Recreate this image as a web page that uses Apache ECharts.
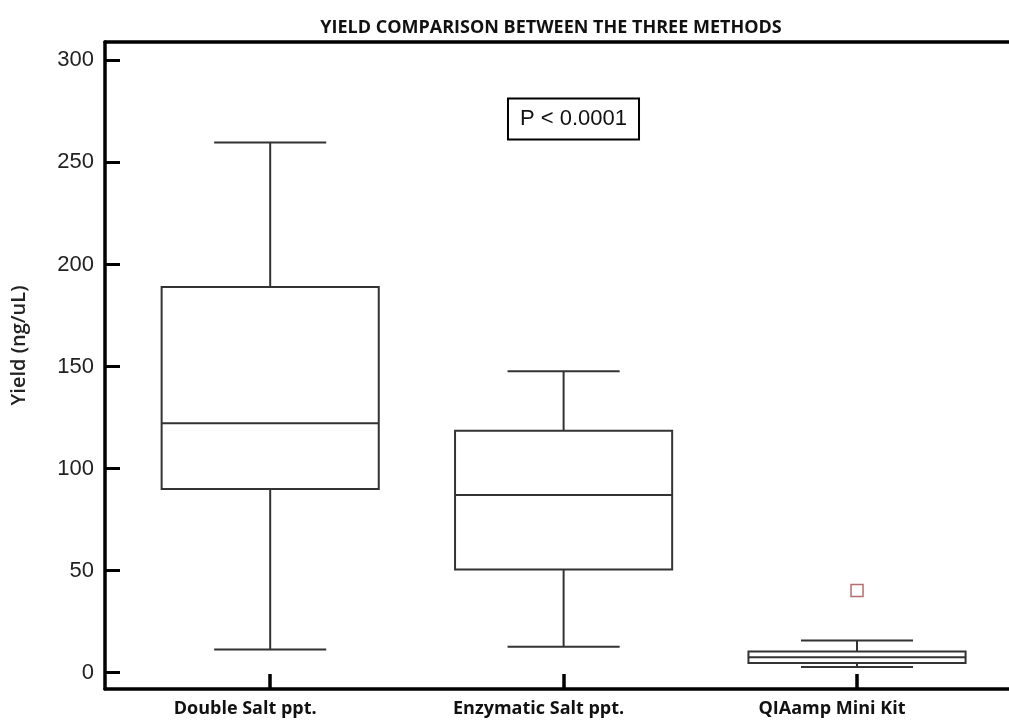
<!DOCTYPE html>
<html><head><meta charset="utf-8">
<script src="https://cdn.jsdelivr.net/npm/echarts@6/dist/echarts.min.js"></script>
<style>html,body{margin:0;padding:0;background:#fff}#c{width:1009px;height:724px}</style>
</head><body><div id="c"></div>
<script>
const categories = ['Double Salt ppt.', 'Enzymatic Salt ppt.', 'QIAamp Mini Kit'];
const whiskerLow = [11.3, 12.7, 2.8];
const q1 = [90, 50.5, 4.7];
const median = [122.2, 87.1, 7.5];
const q3 = [189, 118.5, 10.4];
const whiskerHigh = [259.7, 147.7, 15.8];
const outlierCategory = [3];
const outlierValue = [40.2];
const yTicks = [0, 50, 100, 150, 200, 250, 300];
const titleText = 'YIELD COMPARISON BETWEEN THE THREE METHODS';
const yName = 'Yield (ng/uL)';
const pText = 'P < 0.0001';

const catPos = categories.map((c, i) => i + 1);
const boxData = categories.map((c, i) => [i + 1, whiskerLow[i], q1[i], median[i], q3[i], whiskerHigh[i]]);
const outlierData = outlierCategory.map((c, i) => [c, outlierValue[i]]);

const BOX_W = 0.74, CAP_W = 0.382;
function renderBox(params, api) {
  const x = api.value(0);
  const pLow = api.coord([x, api.value(1)]);
  const pQ1 = api.coord([x, api.value(2)]);
  const pMed = api.coord([x, api.value(3)]);
  const pQ3 = api.coord([x, api.value(4)]);
  const pHigh = api.coord([x, api.value(5)]);
  const bw = api.size([BOX_W, 0])[0];
  const cw = api.size([CAP_W, 0])[0];
  const cx = pMed[0];
  const st = { stroke: '#333', lineWidth: 2, fill: null };
  return {
    type: 'group', children: [
      { type: 'line', shape: { x1: cx, y1: pHigh[1], x2: cx, y2: pQ3[1] }, style: st },
      { type: 'line', shape: { x1: cx - cw / 2, y1: pHigh[1], x2: cx + cw / 2, y2: pHigh[1] }, style: st },
      { type: 'line', shape: { x1: cx, y1: pLow[1], x2: cx, y2: pQ1[1] }, style: st },
      { type: 'line', shape: { x1: cx - cw / 2, y1: pLow[1], x2: cx + cw / 2, y2: pLow[1] }, style: st },
      { type: 'rect', shape: { x: cx - bw / 2, y: pQ3[1], width: bw, height: pQ1[1] - pQ3[1] }, style: { stroke: '#333', lineWidth: 2, fill: '#fff' } },
      { type: 'line', shape: { x1: cx - bw / 2, y1: pMed[1], x2: cx + bw / 2, y2: pMed[1] }, style: st }
    ]
  };
}

const chart = echarts.init(document.getElementById('c'), null, { renderer: 'canvas' });
chart.setOption({
  animation: false,
  backgroundColor: '#fff',
  grid: { left: 105, right: 0, top: 42, bottom: 35, containLabel: false },
  graphic: [
    { type: 'text', x: 551, y: 28, style: { text: titleText, fill: '#111', font: 'bold 18px "Open Sans", sans-serif', align: 'center', verticalAlign: 'middle' } },
    { type: 'text', x: 573.5, y: 119, style: { text: pText, fill: '#111', font: '22px "Liberation Sans", Arial, sans-serif', align: 'center', verticalAlign: 'middle', padding: [9, 11, 8, 11], borderColor: '#000', borderWidth: 2, backgroundColor: '#fff' } }
  ],
  xAxis: [
    {
      type: 'value', min: 0.437, max: 3.518, position: 'bottom',
      splitLine: { show: false },
      axisLine: { show: true, onZero: false, lineStyle: { color: '#000', width: 3.5 } },
      axisTick: { show: true, inside: true, length: 15, customValues: catPos, lineStyle: { color: '#000', width: 3.5 } },
      axisLabel: {
        customValues: catPos, margin: 11, color: '#111', fontFamily: '"Open Sans", sans-serif', fontWeight: 'bold', fontSize: 18,
        padding: [0, 50, 0, 0],
        formatter: v => categories[Math.round(v) - 1] || ''
      }
    },
    {
      type: 'value', min: 0.437, max: 3.518, position: 'top',
      splitLine: { show: false },
      axisLine: { show: true, onZero: false, lineStyle: { color: '#000', width: 3.5 } },
      axisTick: { show: false }, axisLabel: { show: false }
    }
  ],
  yAxis: {
    type: 'value', min: -8, max: 309,
    splitLine: { show: false },
    axisLine: { show: true, onZero: false, lineStyle: { color: '#000', width: 3.5 } },
    axisTick: { show: true, inside: true, length: 15, customValues: yTicks, lineStyle: { color: '#000', width: 3 } },
    axisLabel: { customValues: yTicks, margin: 11, color: '#222', fontFamily: '"Liberation Sans", Arial, sans-serif', fontSize: 22 },
    name: yName, nameLocation: 'middle', nameGap: 76, nameRotate: 90,
    nameTextStyle: { color: '#222', fontFamily: '"Open Sans", sans-serif', fontSize: 20, fontWeight: 600, padding: [0, 0, 0, 40] }
  },
  series: [
    { type: 'custom', xAxisIndex: 0, yAxisIndex: 0, renderItem: renderBox, data: boxData, encode: { x: 0, y: [1, 2, 3, 4, 5] }, z: 2 },
    { type: 'scatter', xAxisIndex: 0, data: outlierData, symbol: 'rect', symbolSize: 12, itemStyle: { color: '#fff', borderColor: '#a24848', borderWidth: 1.5 }, z: 3 }
  ]
});
</script></body></html>
